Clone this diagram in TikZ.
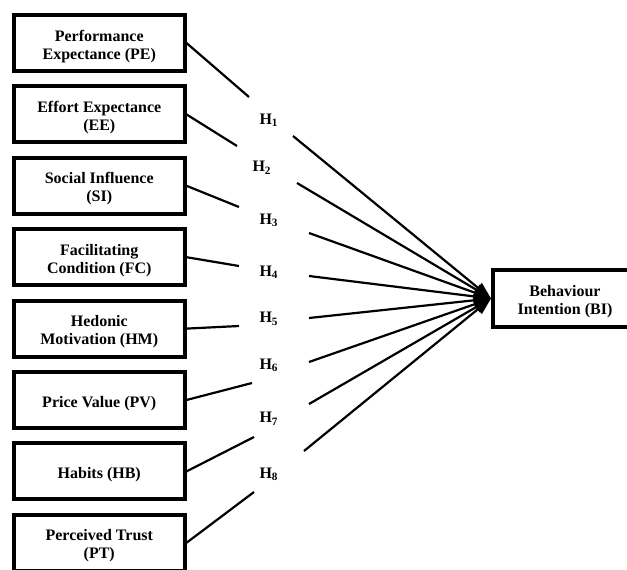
\documentclass[tikz,border=0pt]{standalone}
\usepackage{fontspec}
\setmainfont{Liberation Serif}
\usetikzlibrary{arrows.meta}
\newcommand\lowtxt[1]{\raisebox{-3.5pt}[\height][\depth]{\begin{tabular}{@{}c@{}}#1\end{tabular}}}
\begin{document}
\begin{tikzpicture}[x=1pt,y=-1pt,
  box/.style={draw, line width=4pt, minimum width=170.5pt, minimum height=56pt, inner sep=0pt, align=center, font=\bfseries\fontsize{16}{18}\selectfont},
  bibox/.style={box, minimum width=144pt, minimum height=57pt},
  link/.style={line width=2.2pt},
  arr/.style={link, -{Triangle[length=17pt,width=12pt]}},
  hyp/.style={anchor=base west, inner sep=0pt, font=\bfseries\fontsize{16}{18}\selectfont}]
\useasboundingbox (0,0) rectangle (627,570);
\clip (0,0) rectangle (627,570);
% left boxes
\node[box] (PE) at (99.25,43)    {\lowtxt{Performance\\Expectance (PE)}};
\node[box] (EE) at (99.25,114.4) {\lowtxt{Effort Expectance\\(EE)}};
\node[box] (SI) at (99.25,185.8) {\lowtxt{Social Influence\\(SI)}};
\node[box] (FC) at (99.25,257.2) {\lowtxt{Facilitating\\Condition (FC)}};
\node[box] (HM) at (99.25,328.6) {\lowtxt{Hedonic\\Motivation (HM)}};
\node[box] (PV) at (99.25,400)   {\lowtxt{Price Value (PV)}};
\node[box] (HB) at (99.25,471.4) {\lowtxt{Habits (HB)}};
\node[box] (PT) at (99.25,542.8) {\lowtxt{Perceived Trust\\(PT)}};
% target
\node[bibox] (BI) at (565,298.5) {\lowtxt{Behaviour\\Intention (BI)}};
% hypothesis labels
\node[hyp] (H1) at (259.3,124)   {H\textsubscript{1}};
\node[hyp] (H2) at (252.3,171.7) {H\textsubscript{2}};
\node[hyp] (H3) at (259.3,224)   {H\textsubscript{3}};
\node[hyp] (H4) at (259.3,276)   {H\textsubscript{4}};
\node[hyp] (H5) at (259.3,322.7) {H\textsubscript{5}};
\node[hyp] (H6) at (259.3,369)   {H\textsubscript{6}};
\node[hyp] (H7) at (259.3,422.7) {H\textsubscript{7}};
\node[hyp] (H8) at (259.3,478.3) {H\textsubscript{8}};
% break points around labels
\coordinate (a1) at (249,97);  \coordinate (b1) at (293,136);
\coordinate (a2) at (237,146); \coordinate (b2) at (297,183);
\coordinate (a3) at (239,207); \coordinate (b3) at (309,233);
\coordinate (a4) at (239,266); \coordinate (b4) at (309,276);
\coordinate (a5) at (239,326); \coordinate (b5) at (309,318);
\coordinate (a6) at (252,383); \coordinate (b6) at (309,362);
\coordinate (a7) at (254,437); \coordinate (b7) at (309,404);
\coordinate (a8) at (254,492); \coordinate (b8) at (304,451);
% connectors
\draw[link] (PE.east) -- (a1); \draw[arr] (b1) -- (BI.west);
\draw[link] (EE.east) -- (a2); \draw[arr] (b2) -- (BI.west);
\draw[link] (SI.east) -- (a3); \draw[arr] (b3) -- (BI.west);
\draw[link] (FC.east) -- (a4); \draw[arr] (b4) -- (BI.west);
\draw[link] (HM.east) -- (a5); \draw[arr] (b5) -- (BI.west);
\draw[link] (PV.east) -- (a6); \draw[arr] (b6) -- (BI.west);
\draw[link] (HB.east) -- (a7); \draw[arr] (b7) -- (BI.west);
\draw[link] (PT.east) -- (a8); \draw[arr] (b8) -- (BI.west);
\end{tikzpicture}
\end{document}
